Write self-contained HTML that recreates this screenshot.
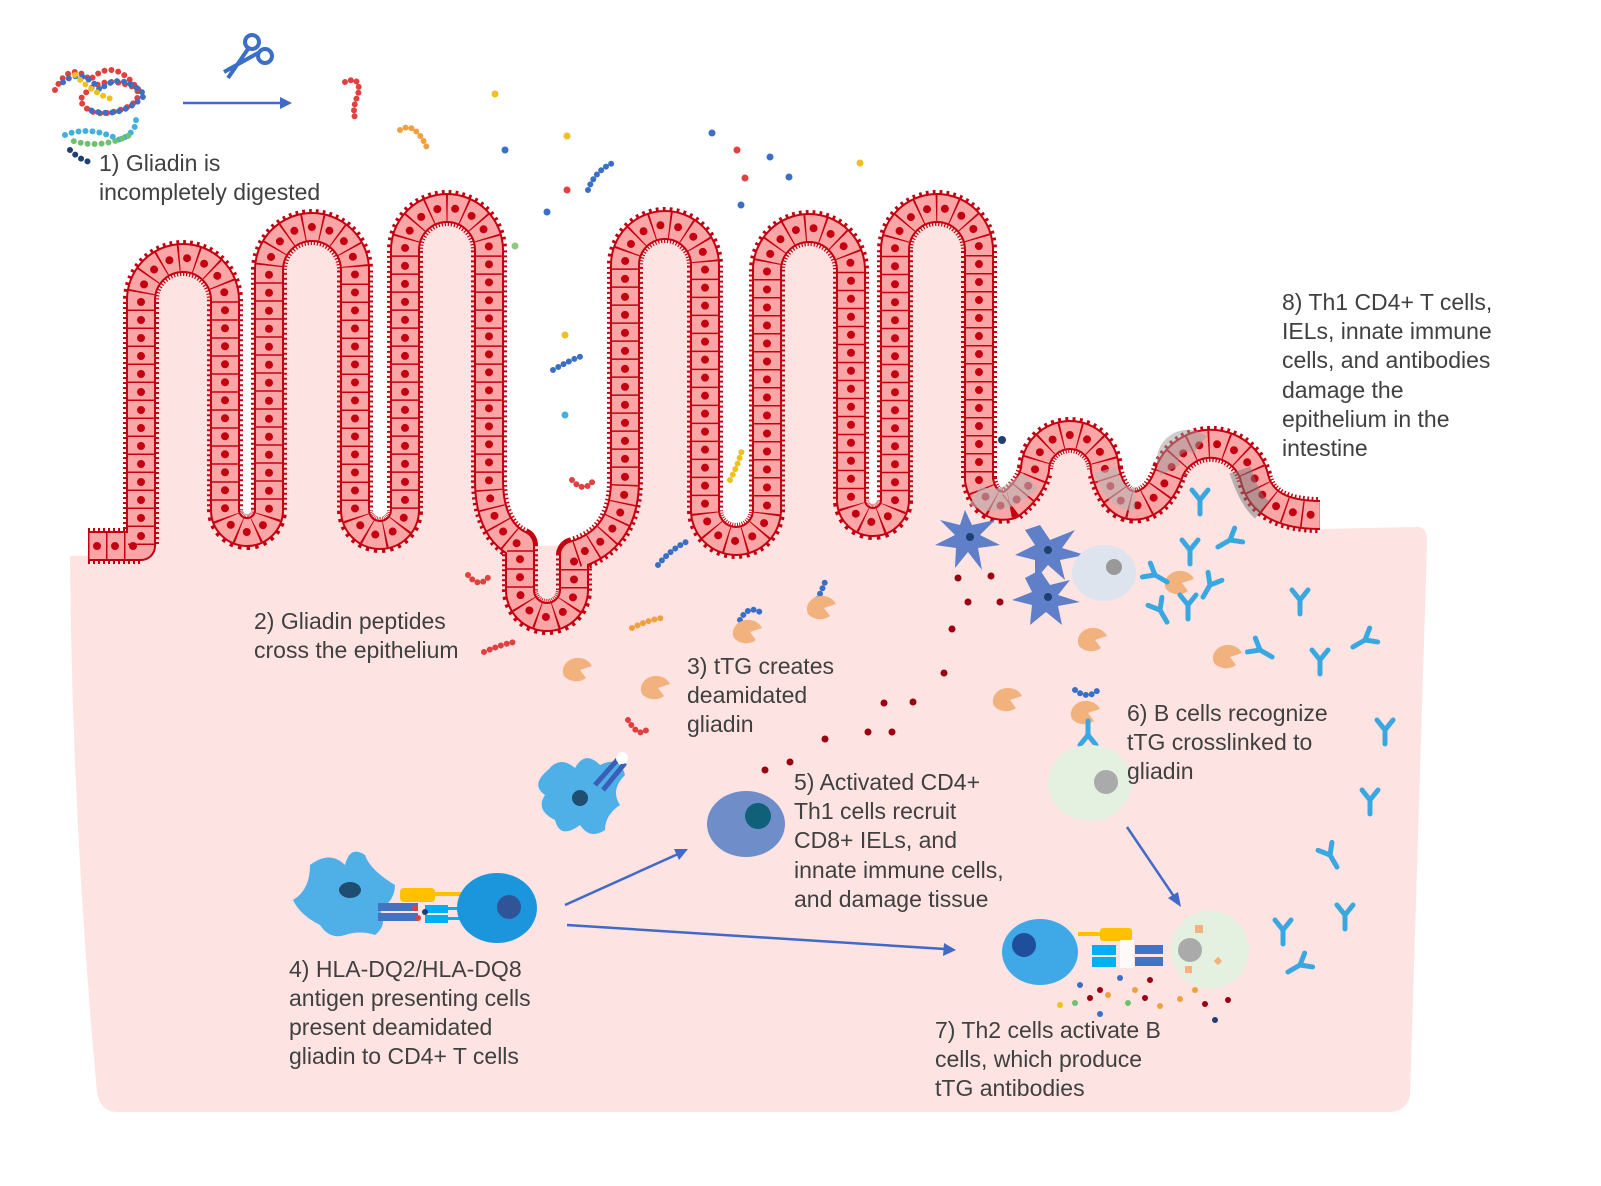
<!DOCTYPE html>
<html><head><meta charset="utf-8"><style>
html,body{margin:0;padding:0;background:#fff}
svg{display:block}
text{font-family:"Liberation Sans",sans-serif;font-size:23px;fill:#404040}
</style></head><body>
<svg width="1601" height="1186" viewBox="0 0 1601 1186" xmlns="http://www.w3.org/2000/svg">
<defs>
<g id="ab"><path d="M0 0 L0 14 M0 0 L-8 -10 M0 0 L8 -10" stroke="#3aa8e0" stroke-width="5" fill="none" stroke-linecap="round"/></g>
<g id="ttg"><path d="M-14 6 A15 13 0 1 1 14 -4 L2 0 L8 8 A15 13 0 0 1 -14 6Z" fill="#f2b27e"/></g>
<path id="vl" d="M88 546 L141 546 L141 300 A42 42 0 0 1 225 300 L225 510 A22 22 0 0 0 269 510 L269 270 A43 43 0 0 1 355 270 L355 510 A25 25 0 0 0 405 510 L405 250 A42 42 0 0 1 489 250 L489 480 Q489 530 520 545 L520 590 A27 27 0 0 0 574 590 L574 555 Q625 540 625 480 L625 265 A40 40 0 0 1 705 265 L705 510 A31 31 0 0 0 767 510 L767 270 A42 42 0 0 1 851 270 L851 500 A22 22 0 0 0 895 500 L895 250 A42 42 0 0 1 979 250 L979 480 Q985 510 1010 505 Q1030 490 1035 470 A35 35 0 0 1 1105 470 Q1115 510 1140 505 Q1160 500 1170 470 A45 45 0 0 1 1255 480 Q1265 515 1320 515"/>
</defs>
<!-- tissue -->
<path d="M70 556 L1418 527 Q1428 527 1427 545 L1410 1095 Q1407 1112 1388 1112 L118 1112 Q100 1112 97 1092 Q72 820 70 556Z" fill="#fde3e2"/>
<path d="M88 546 L141 546 L141 300 A42 42 0 0 1 225 300 L225 510 A22 22 0 0 0 269 510 L269 270 A43 43 0 0 1 355 270 L355 510 A25 25 0 0 0 405 510 L405 250 A42 42 0 0 1 489 250 L489 480 Q489 530 520 545 L520 590 A27 27 0 0 0 574 590 L574 555 Q625 540 625 480 L625 265 A40 40 0 0 1 705 265 L705 510 A31 31 0 0 0 767 510 L767 270 A42 42 0 0 1 851 270 L851 500 A22 22 0 0 0 895 500 L895 250 A42 42 0 0 1 979 250 L979 480 Q985 510 1010 505 Q1030 490 1035 470 A35 35 0 0 1 1105 470 Q1115 510 1140 505 Q1160 500 1170 470 A45 45 0 0 1 1255 480 Q1265 515 1320 515 L1320 560 L88 560Z" fill="#fde3e2"/>
<g fill="none" stroke-linejoin="round">
<use href="#vl" stroke="#c40010" stroke-width="36" stroke-dasharray="2 3"/>
<use href="#vl" stroke="#c40010" stroke-width="30"/>
<use href="#vl" stroke="#fba6a6" stroke-width="26"/>
<use href="#vl" stroke="#c40010" stroke-width="26" stroke-dasharray="1.5 16.5"/>
<use href="#vl" stroke="#c40010" stroke-width="8" stroke-linecap="round" stroke-dasharray="0 18" stroke-dashoffset="-9"/>
</g>
<path d="M975 495 Q1000 510 1030 480" stroke="#b8b8b8" stroke-width="22" fill="none" opacity="0.6"/>
<path d="M1105 470 Q1115 500 1135 500" stroke="#b8b8b8" stroke-width="22" fill="none" opacity="0.6"/>
<path d="M1170 470 A20 20 0 0 1 1200 445" stroke="#999" stroke-width="22" fill="none" opacity="0.5"/>
<path d="M1240 470 Q1250 500 1262 510" stroke="#777" stroke-width="22" fill="none" opacity="0.5"/>

<!-- gliadin chain top-left -->
<g fill="none" stroke-linecap="round" stroke-width="6" stroke-dasharray="0 7">
<path d="M55 90 Q70 60 90 80 Q110 60 130 80 Q150 100 120 110 Q90 120 80 100 Q100 70 140 90" stroke="#e04040"/>
<path d="M60 85 Q80 65 100 90 Q120 70 145 95 Q120 120 90 110" stroke="#3a6fc8" stroke-dashoffset="3"/>
<path d="M65 135 Q90 125 120 140 Q140 130 135 115" stroke="#40b0e0"/>
<path d="M70 140 Q100 150 130 135" stroke="#70c070" stroke-dashoffset="3"/>
<path d="M70 150 Q80 160 90 162" stroke="#1f3f70"/>
<path d="M75 75 Q95 95 115 100" stroke="#f0c020"/>
</g>
<!-- scissors -->
<g stroke="#3a6fc8" stroke-width="4" fill="none"><circle cx="252" cy="42" r="7"/><circle cx="265" cy="56" r="7"/><path d="M248 49 L228 78 M258 53 L224 72"/></g>
<path d="M183 103 L285 103" stroke="#4169c8" stroke-width="2.5"/><path d="M292 103 L280 97 L280 109Z" fill="#4169c8"/>

<g>
<circle cx="495" cy="94" r="3.5" fill="#f0c020"/><circle cx="567" cy="136" r="3.5" fill="#f0c020"/><circle cx="860" cy="163" r="3.5" fill="#f0c020"/>
<circle cx="505" cy="150" r="3.5" fill="#3a6fc8"/><circle cx="712" cy="133" r="3.5" fill="#3a6fc8"/><circle cx="770" cy="157" r="3.5" fill="#3a6fc8"/><circle cx="789" cy="177" r="3.5" fill="#3a6fc8"/><circle cx="741" cy="205" r="3.5" fill="#3a6fc8"/><circle cx="547" cy="212" r="3.5" fill="#3a6fc8"/>
<circle cx="737" cy="150" r="3.5" fill="#e04040"/><circle cx="745" cy="178" r="3.5" fill="#e04040"/><circle cx="567" cy="190" r="3.5" fill="#e04040"/>
<circle cx="515" cy="246" r="3.5" fill="#90c880"/><circle cx="565" cy="335" r="3.5" fill="#f0c020"/><circle cx="565" cy="415" r="3.5" fill="#40b0e0"/><circle cx="1002" cy="440" r="4" fill="#1f3f70"/>
</g>
<g fill="none" stroke-linecap="round" stroke-width="6" stroke-dasharray="0 6">
<path d="M345 82 Q362 75 358 95 Q352 108 355 118" stroke="#e04040"/>
<path d="M400 130 Q415 120 428 150" stroke="#f0a040"/>
<path d="M588 190 Q595 170 615 162" stroke="#3a6fc8"/>
<path d="M553 370 Q570 360 582 356" stroke="#3a6fc8"/>
<path d="M572 480 Q585 495 595 478" stroke="#e04040"/>
<path d="M730 480 Q738 465 742 450" stroke="#f0c020"/>
<path d="M658 565 Q670 550 686 542" stroke="#3a6fc8"/>
<path d="M468 575 Q480 590 490 575" stroke="#e04040"/>
<path d="M632 628 Q648 620 662 618" stroke="#f0a040"/>
<path d="M484 652 Q500 645 514 642" stroke="#e04040"/>
<path d="M740 620 Q748 605 760 612" stroke="#3a6fc8"/>
<path d="M812 610 Q820 595 825 582" stroke="#3a6fc8"/>
<path d="M628 720 Q640 740 648 728" stroke="#e04040"/>
<path d="M1075 690 Q1088 700 1098 690" stroke="#3a6fc8"/>
<path d="M1210 930 Q1225 945 1228 930" stroke="#e04040"/>
<path d="M1203 975 Q1215 985 1220 975" stroke="#3a6fc8"/>
</g>

<use href="#ttg" x="578" y="670"/><use href="#ttg" x="656" y="688"/><use href="#ttg" x="748" y="632"/><use href="#ttg" x="822" y="608"/><use href="#ttg" x="1008" y="700"/><use href="#ttg" x="1093" y="640"/><use href="#ttg" x="1180" y="583"/><use href="#ttg" x="1228" y="657"/><use href="#ttg" x="1086" y="713"/>

<g fill="#9a0010">
<circle cx="958" cy="578" r="3.5"/><circle cx="991" cy="576" r="3.5"/><circle cx="968" cy="602" r="3.5"/><circle cx="1000" cy="602" r="3.5"/><circle cx="952" cy="629" r="3.5"/><circle cx="944" cy="673" r="3.5"/><circle cx="884" cy="703" r="3.5"/><circle cx="913" cy="702" r="3.5"/><circle cx="868" cy="732" r="3.5"/><circle cx="892" cy="732" r="3.5"/><circle cx="825" cy="739" r="3.5"/><circle cx="790" cy="762" r="3.5"/><circle cx="765" cy="770" r="3.5"/><circle cx="975" cy="555" r="3.5"/>
</g>
<g>
<circle cx="1080" cy="985" r="3" fill="#3a6fc8"/><circle cx="1100" cy="990" r="3" fill="#9a0010"/><circle cx="1120" cy="978" r="3" fill="#3a6fc8"/><circle cx="1135" cy="990" r="3" fill="#f0a040"/><circle cx="1060" cy="1005" r="3" fill="#f0c020"/><circle cx="1075" cy="1003" r="3" fill="#70c070"/><circle cx="1090" cy="998" r="3" fill="#9a0010"/><circle cx="1108" cy="995" r="3" fill="#f0a040"/><circle cx="1128" cy="1003" r="3" fill="#70c070"/><circle cx="1145" cy="998" r="3" fill="#9a0010"/><circle cx="1160" cy="1006" r="3" fill="#f0a040"/><circle cx="1180" cy="999" r="3" fill="#f0a040"/><circle cx="1205" cy="1004" r="3" fill="#9a0010"/><circle cx="1228" cy="1000" r="3" fill="#9a0010"/><circle cx="1100" cy="1014" r="3" fill="#3a6fc8"/><circle cx="1215" cy="1020" r="3" fill="#1f3f70"/><circle cx="1150" cy="980" r="3" fill="#9a0010"/><circle cx="1195" cy="990" r="3" fill="#f0a040"/>
</g>

<g fill="#5f7fc8">
<path d="M965 510 L972 525 L995 520 L980 535 L1000 545 L978 548 L982 570 L968 552 L955 568 L956 548 L935 545 L955 535 L940 520 L960 525Z"/>
<path d="M1040 525 L1050 540 L1075 530 L1062 548 L1085 555 L1060 560 L1065 580 L1048 565 L1035 580 L1035 560 L1015 555 L1035 545 L1025 530Z"/>
<path d="M1040 570 L1050 585 L1070 580 L1058 595 L1080 602 L1058 606 L1062 625 L1046 612 L1030 625 L1032 605 L1012 600 L1032 592 L1025 578Z"/>
</g>
<circle cx="970" cy="537" r="4" fill="#1f3f70"/><circle cx="1048" cy="550" r="4" fill="#1f3f70"/><circle cx="1048" cy="597" r="4" fill="#1f3f70"/>
<ellipse cx="1104" cy="573" rx="32" ry="28" fill="#dde4ee"/><circle cx="1114" cy="567" r="8" fill="#999"/>

<use href="#ab" x="1200" y="500"/><use href="#ab" x="1230" y="540" transform="rotate(60 1230 540)"/><use href="#ab" x="1190" y="550"/><use href="#ab" x="1155" y="575" transform="rotate(-60 1155 575)"/><use href="#ab" x="1210" y="585" transform="rotate(30 1210 585)"/><use href="#ab" x="1160" y="610" transform="rotate(-30 1160 610)"/><use href="#ab" x="1188" y="605"/><use href="#ab" x="1300" y="600"/><use href="#ab" x="1260" y="650" transform="rotate(-60 1260 650)"/><use href="#ab" x="1320" y="660"/><use href="#ab" x="1365" y="640" transform="rotate(60 1365 640)"/><use href="#ab" x="1385" y="730"/><use href="#ab" x="1370" y="800"/><use href="#ab" x="1330" y="855" transform="rotate(-30 1330 855)"/><use href="#ab" x="1345" y="915"/><use href="#ab" x="1283" y="930"/><use href="#ab" x="1300" y="965" transform="rotate(60 1300 965)"/><use href="#ab" x="1088" y="735" transform="rotate(180 1088 735)"/>

<ellipse cx="1090" cy="783" rx="42" ry="38" fill="#e4f1e0"/><circle cx="1106" cy="782" r="12" fill="#aaa"/>
<circle cx="1210" cy="950" r="39" fill="#e4f1e0"/><circle cx="1190" cy="950" r="12" fill="#aaa"/>
<rect x="1195" y="925" width="8" height="8" fill="#f2b27e"/><rect x="1185" y="966" width="7" height="7" fill="#f2b27e"/><rect x="1215" y="958" width="6" height="6" fill="#f2b27e" transform="rotate(45 1218 961)"/>
<ellipse cx="1040" cy="952" rx="38" ry="33" fill="#3fa9e8"/><circle cx="1024" cy="945" r="12" fill="#1f4e9b"/>
<rect x="1100" y="928" width="32" height="13" rx="3" fill="#ffc000"/><rect x="1078" y="932" width="22" height="4" fill="#ffc000"/>
<rect x="1092" y="945" width="24" height="10" fill="#00b0f0"/><rect x="1092" y="957" width="24" height="10" fill="#00b0f0"/>
<rect x="1135" y="945" width="28" height="9" fill="#4472c4"/><rect x="1135" y="957" width="28" height="9" fill="#4472c4"/>
<rect x="1120" y="940" width="14" height="28" fill="#fff" opacity="0.8"/>
<path d="M548 770 Q560 755 575 768 Q585 750 600 765 Q620 755 625 775 Q610 790 620 805 Q605 815 605 830 Q590 840 580 825 Q560 840 555 820 Q535 810 545 795 Q530 785 548 770Z" fill="#4fb0e8"/><circle cx="580" cy="798" r="8" fill="#1f4e70"/>
<path d="M595 785 L620 757 M603 790 L625 763" stroke="#3a5fb8" stroke-width="5"/><circle cx="622" cy="758" r="6" fill="#fff"/>
<ellipse cx="746" cy="824" rx="39" ry="33" fill="#6f8dc9"/><circle cx="758" cy="816" r="13" fill="#10607a"/>
<path d="M310 865 Q330 850 345 865 Q350 845 365 855 Q370 870 395 885 Q395 900 380 910 Q388 925 375 935 Q360 930 345 935 Q330 940 320 925 Q300 915 293 900 Q310 890 310 865Z" fill="#4fb0e8"/>
<ellipse cx="350" cy="890" rx="11" ry="8" fill="#1f4e70"/>
<rect x="400" y="888" width="35" height="14" rx="4" fill="#ffc000"/><rect x="435" y="892" width="30" height="4" fill="#ffc000"/>
<rect x="378" y="903" width="40" height="8" fill="#4472c4"/><rect x="378" y="913" width="40" height="8" fill="#4472c4"/>
<rect x="425" y="905" width="23" height="8" fill="#00b0f0"/><rect x="425" y="915" width="23" height="8" fill="#00b0f0"/>
<rect x="448" y="907" width="15" height="3" fill="#00b0f0"/><rect x="448" y="917" width="15" height="3" fill="#00b0f0"/>
<circle cx="415" cy="908" r="3" fill="#e04040"/><circle cx="418" cy="918" r="3" fill="#e04040"/><circle cx="425" cy="912" r="3" fill="#1f3f70"/>
<ellipse cx="497" cy="908" rx="40" ry="35" fill="#1b96dc"/><circle cx="509" cy="907" r="12" fill="#2f5597"/>

<g stroke="#4169c8" stroke-width="2.5" fill="#4169c8">
<line x1="565" y1="905" x2="678" y2="854"/><path d="M688 849 L674 849 L679 860Z" stroke="none"/>
<line x1="567" y1="925" x2="945" y2="949"/><path d="M956 950 L944 943 L943 956Z" stroke="none"/>
<line x1="1127" y1="827" x2="1175" y2="898"/><path d="M1181 907 L1168 898 L1178 892Z" stroke="none"/>
</g>

<text x="99" y="171">1) Gliadin is</text><text x="99" y="200">incompletely digested</text>
<text x="254" y="629">2) Gliadin peptides</text><text x="254" y="658">cross the epithelium</text>
<text x="687" y="674">3) tTG creates</text><text x="687" y="703">deamidated</text><text x="687" y="732">gliadin</text>
<text x="289" y="977">4) HLA-DQ2/HLA-DQ8</text><text x="289" y="1006">antigen presenting cells</text><text x="289" y="1035">present deamidated</text><text x="289" y="1064">gliadin to CD4+ T cells</text>
<text x="794" y="790">5) Activated CD4+</text><text x="794" y="819">Th1 cells recruit</text><text x="794" y="848">CD8+ IELs, and</text><text x="794" y="878">innate immune cells,</text><text x="794" y="907">and damage tissue</text>
<text x="1127" y="721">6) B cells recognize</text><text x="1127" y="750">tTG crosslinked to</text><text x="1127" y="779">gliadin</text>
<text x="935" y="1038">7) Th2 cells activate B</text><text x="935" y="1067">cells, which produce</text><text x="935" y="1096">tTG antibodies</text>
<text x="1282" y="310">8) Th1 CD4+ T cells,</text><text x="1282" y="339">IELs, innate immune</text><text x="1282" y="368">cells, and antibodies</text><text x="1282" y="398">damage the</text><text x="1282" y="427">epithelium in the</text><text x="1282" y="456">intestine</text>
</svg>
</body></html>
